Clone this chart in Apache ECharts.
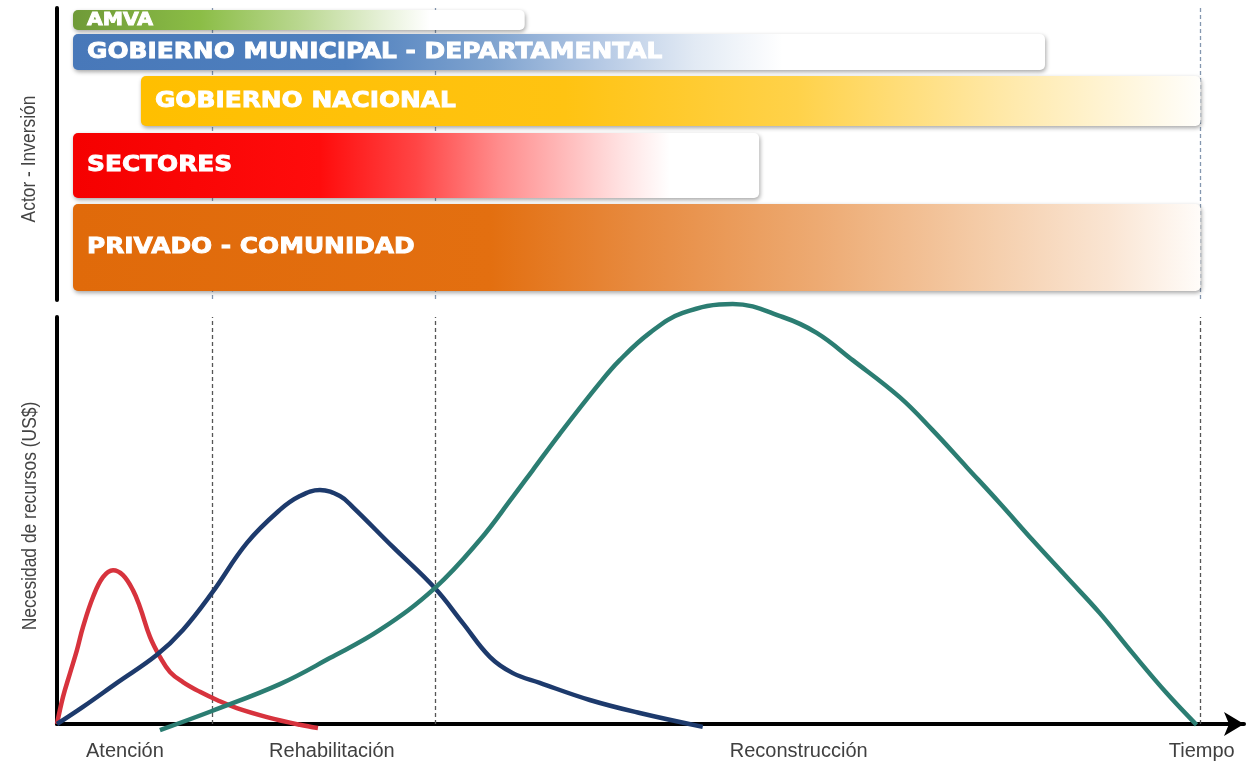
<!DOCTYPE html>
<html><head><meta charset="utf-8">
<script src="https://cdn.jsdelivr.net/npm/echarts@6/dist/echarts.min.js"></script>
<style>html,body{margin:0;padding:0;background:#fff}#c{width:1247px;height:762px}</style>
</head><body><div id="c"></div>
<script>
// ---- data ----
const actors = ['AMVA', 'GOBIERNO MUNICIPAL - DEPARTAMENTAL', 'GOBIERNO NACIONAL', 'SECTORES', 'PRIVADO - COMUNIDAD'];
const actorStart = [1.4, 1.4, 7.34, 1.4, 1.4];
const actorEnd = [40.9, 86.4, 100, 61.4, 100];
const phaseBoundaries = [13.55, 33.04, 100];
const tickValues = [5.94, 24.04, 64.86, 100.1];
const tickLabels = ['Atención', 'Rehabilitación', 'Reconstrucción', 'Tiempo'];
const axisTitles = ['Actor - Inversión', 'Necesidad de recursos (US$)'];
const atencion = [[0,0],[0.52,6.6],[1.14,12.5],[1.75,18.2],[2.27,23.8],[3.15,31.2],[4.02,36.1],[4.9,37.8],[5.77,36.6],[6.64,32.9],[7.26,28.7],[8.13,21.4],[9.0,16.5],[9.88,12.8],[11.01,10.3],[12.5,7.9],[13.99,5.9],[15.73,3.9],[18.36,1.7],[21.24,-0.2],[22.82,-1.0]];
const rehabilitacion = [[0,0],[2.27,4.2],[5.24,10.1],[8.74,17.0],[11.01,23.1],[13.55,32.2],[16.61,44.5],[19.49,52.6],[21.24,56.0],[22.99,57.5],[24.74,56.0],[25.87,53.3],[29.37,43.5],[33.04,33.4],[35.49,24.8],[37.85,16.5],[39.86,12.5],[42.22,10.1],[46.59,5.9],[50.96,2.7],[56.47,-0.7]];
const reconstruccion = [[9.0,-1.5],[13.55,3.2],[19.49,9.8],[23.86,16.2],[28.23,23.1],[33.04,33.4],[36.97,45.2],[39.86,55.8],[41.61,62.4],[43.97,71.3],[47.47,83.8],[49.21,89.4],[51.84,96.1],[54.72,101.0],[59.09,103.2],[63.46,100.0],[66.43,96.1],[69.58,89.4],[73.69,80.3],[76.57,72.2],[79.55,63.1],[82.43,54.3],[85.31,45.2],[88.29,36.1],[91.17,27.3],[94.06,17.4],[97.03,7.6],[99.65,-0.2]];

// ---- layout / style ----
const rowTop = [2, 26, 68, 125, 196];
const rowBottom = [22, 62, 118, 190, 283];
const labelSizes = [18, 22, 22, 22, 22];
const barStops = [
  [[0,'#6f9a38'],[0.28,'#8bbd46'],[0.5,'#b9d78f'],[0.68,'#e5f0d6'],[0.79,'#ffffff'],[1,'#ffffff']],
  [[0,'#4878b9'],[0.28,'#4f80be'],[0.43,'#7fa3cf'],[0.54,'#b4c8e4'],[0.64,'#e2eaf4'],[0.73,'#ffffff'],[1,'#ffffff']],
  [[0,'#ffbf00'],[0.4,'#ffc312'],[0.62,'#ffd24a'],[0.81,'#ffe8a6'],[1,'#fffefb']],
  [[0,'#f50000'],[0.36,'#ff0c0c'],[0.5,'#ff4545'],[0.62,'#ff8c8c'],[0.72,'#ffbcbc'],[0.8,'#ffe2e2'],[0.87,'#ffffff'],[1,'#ffffff']],
  [[0,'#e06a0a'],[0.37,'#e36f10'],[0.5,'#e78a3f'],[0.66,'#edaa72'],[0.82,'#f5cfad'],[0.92,'#fae5d3'],[1,'#fffcf9']]
];
const XMAX = 103.8;
const SMOOTH = 0.4;

function renderBar(params, api) {
  const i = params.dataIndex;
  const p0 = api.coord([api.value(0), rowTop[i]]);
  const p1 = api.coord([api.value(1), rowBottom[i]]);
  const x = p0[0], y = p0[1], w = p1[0] - p0[0], h = p1[1] - p0[1];
  return {
    type: 'group',
    children: [
      { type: 'rect', shape: { x: x, y: y, width: w, height: h, r: 5 },
        style: { fill: { type: 'linear', x: 0, y: 0, x2: 1, y2: 0, colorStops: barStops[i].map(s => ({ offset: s[0], color: s[1] })) },
                 shadowBlur: 4, shadowOffsetX: 1, shadowOffsetY: 2, shadowColor: 'rgba(0,0,0,0.35)' } },
      { type: 'text', x: x + 14, y: y + h / 2, scaleX: 1.13,
        style: { text: actors[i], fill: '#ffffff', stroke: '#ffffff', lineWidth: 0.9, fontSize: labelSizes[i], fontWeight: 'bold', fontFamily: 'DejaVu Sans', verticalAlign: 'middle', align: 'left' } }
    ]
  };
}

const chart = echarts.init(document.getElementById('c'), null, { renderer: 'canvas' });
chart.setOption({
  animation: false,
  backgroundColor: '#ffffff',
  grid: [
    { left: 57, right: 3, top: 8, height: 292 },
    { left: 57, right: 3, top: 317, bottom: 38 }
  ],
  graphic: [
    { type: 'text', x: 29, y: 159, rotation: Math.PI / 2, scaleX: 0.83,
      style: { text: axisTitles[0], fill: '#444', fontSize: 21, fontFamily: 'Liberation Sans, Arial, sans-serif', align: 'center', verticalAlign: 'middle' } },
    { type: 'text', x: 30, y: 516, rotation: Math.PI / 2, scaleX: 0.83,
      style: { text: axisTitles[1], fill: '#444', fontSize: 21, fontFamily: 'Liberation Sans, Arial, sans-serif', align: 'center', verticalAlign: 'middle' } }
  ],
  xAxis: [
    { gridIndex: 0, type: 'value', min: 0, max: XMAX, show: false },
    { gridIndex: 1, type: 'value', min: 0, max: XMAX, splitLine: { show: false },
      axisLine: { show: true, onZero: false, lineStyle: { color: '#000', width: 4 }, symbol: ['none', 'arrow'], symbolSize: [18, 20] },
      axisTick: { show: false },
      axisLabel: { customValues: tickValues, margin: 17, color: '#404040', fontSize: 20, fontFamily: 'Liberation Sans, Arial, sans-serif',
        formatter: v => { const k = tickValues.findIndex(t => Math.abs(t - v) < 1e-6); return k >= 0 ? tickLabels[k] : ''; } } }
  ],
  yAxis: [
    { gridIndex: 0, type: 'value', min: 0, max: 292, inverse: true, splitLine: { show: false },
      axisLine: { show: true, lineStyle: { color: '#000', width: 4 } }, axisTick: { show: false }, axisLabel: { show: false } },
    { gridIndex: 1, type: 'value', min: 0, max: 100, splitLine: { show: false },
      axisLine: { show: true, lineStyle: { color: '#000', width: 4 } }, axisTick: { show: false }, axisLabel: { show: false } }
  ],
  series: [
    { type: 'line', xAxisIndex: 0, yAxisIndex: 0, data: [], z: 1, silent: true,
      markLine: { z: 1, silent: true, symbol: 'none', label: { show: false },
        lineStyle: { color: '#8497b0', width: 1.3, type: [4, 3] },
        data: phaseBoundaries.map(v => ({ xAxis: v })) } },
    { type: 'custom', xAxisIndex: 0, yAxisIndex: 0, z: 10, renderItem: renderBar, clip: false,
      encode: { x: [0, 1] },
      data: actors.map((a, i) => [actorStart[i], actorEnd[i], i]) },
    { type: 'line', xAxisIndex: 1, yAxisIndex: 1, data: [], z: 1, silent: true,
      markLine: { z: 1, silent: true, symbol: 'none', label: { show: false },
        lineStyle: { color: '#555', width: 1.3, type: [4, 3] },
        data: phaseBoundaries.map(v => ({ xAxis: v })) } },
    { name: 'Atención', type: 'line', xAxisIndex: 1, yAxisIndex: 1, data: atencion, smooth: SMOOTH, showSymbol: false, clip: false,
      lineStyle: { color: '#d7333d', width: 4.5 }, z: 4 },
    { name: 'Rehabilitación', type: 'line', xAxisIndex: 1, yAxisIndex: 1, data: rehabilitacion, smooth: SMOOTH, showSymbol: false, clip: false,
      lineStyle: { color: '#1d3a6c', width: 4.5 }, z: 5 },
    { name: 'Reconstrucción', type: 'line', xAxisIndex: 1, yAxisIndex: 1, data: reconstruccion, smooth: SMOOTH, showSymbol: false, clip: false,
      lineStyle: { color: '#2b7d72', width: 4.5 }, z: 6 }
  ]
});
</script></body></html>
